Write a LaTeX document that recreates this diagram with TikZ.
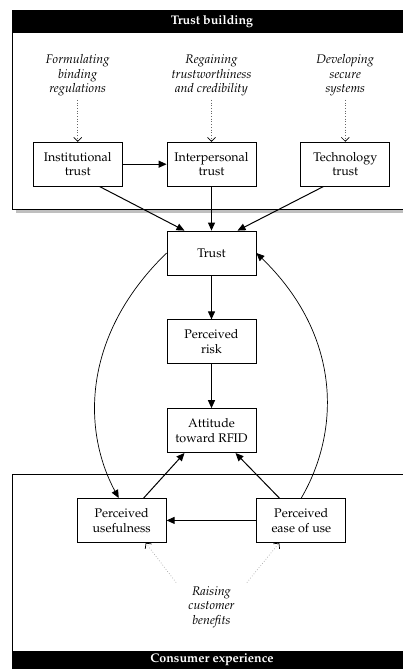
\documentclass[tikz,border=0pt]{standalone}
\usepackage[T1]{fontenc}
\usepackage{mathpazo}
\usetikzlibrary{arrows.meta, positioning}

\begin{document}
\begin{tikzpicture}[x=1pt, y=-1pt, node distance=44pt, line width=0.8pt,
    font=\fontsize{12.5}{14.5}\selectfont,
    box/.style={draw, fill=white, minimum width=89pt, minimum height=44pt, align=center, inner sep=2pt},
    idea/.style={align=center, font=\fontsize{12.5}{14.5}\selectfont\itshape},
    title/.style={text=white, font=\fontsize{12.5}{14.5}\selectfont\bfseries},
    dotarrow/.style={dotted, line width=0.7pt, -{Straight Barb[length=4pt, width=8pt, line width=0.7pt, color=black]}},
    >={Triangle[length=8pt, width=7pt]}]
    \useasboundingbox (0,0) rectangle (402,669);

    % Trust building panel
    \fill[gray!50] (16,14) rectangle (410,213);
    \draw[fill=white] (12,10) rectangle (410,209);
    \fill (12,10) rectangle (410,33);
    \node[title] (toptitle) at (212,21.5) {Trust building};

    % Consumer experience panel
    \draw (12,474) rectangle (410,680);
    \fill (12,651) rectangle (410,680);
    \node[title] (bottitle) at (212,660) {Consumer experience};

    % Constructs
    \node[box] (trust) at (211.5,253) {Trust};
    \node[box, above=of trust] (interpersonal) {Interpersonal\\trust};
    \node[box, left=of interpersonal] (institutional) {Institutional\\trust};
    \node[box, right=of interpersonal] (technology) {Technology\\trust};
    \node[box, below=of trust] (risk) {Perceived\\risk};
    \node[box, below=of risk] (attitude) {Attitude\\toward RFID};
    \node[box, below left=45pt and 0pt of attitude] (usefulness) {Perceived\\usefulness};
    \node[box, below right=45pt and 0pt of attitude] (ease) {Perceived\\ease of use};

    % Measures
    \node[idea, above=42pt of institutional] (regulations) {Formulating\\binding\\regulations};
    \node[idea, above=42pt of interpersonal] (credibility) {Regaining\\trustworthiness\\and credibility};
    \node[idea, above=42pt of technology] (secure) {Developing\\secure\\systems};
    \node[idea, minimum width=70pt] (benefits) at (211.5,607) {Raising\\customer\\benefits};

    \draw[dotarrow, gray!80!black] (regulations) -- (institutional);
    \draw[dotarrow, gray!80!black] (credibility) -- (interpersonal);
    \draw[dotarrow, gray!80!black] (secure) -- (technology);
    \draw[dotarrow, gray!70] (benefits.north west) -- ([xshift=24pt]usefulness.south);
    \draw[dotarrow, gray!70] (benefits.north east) -- ([xshift=-22pt]ease.south);

    % Relations
    \draw[->, line width=1pt] (institutional) -- (interpersonal);
    \draw[->, line width=1pt] ([xshift=22pt]institutional.south) -- ([xshift=-27pt]trust.north);
    \draw[->, line width=1pt] (interpersonal) -- (trust);
    \draw[->, line width=1pt] ([xshift=-22pt]technology.south) -- ([xshift=26pt]trust.north);
    \draw[->, line width=1pt] (trust) -- (risk);
    \draw[->, line width=1pt] (risk) -- (attitude);
    \draw[->, line width=1pt] ([xshift=22pt]usefulness.north) -- ([xshift=-27pt]attitude.south);
    \draw[->, line width=1pt] ([xshift=-22pt]ease.north) -- ([xshift=24pt]attitude.south);
    \draw[->, line width=1pt] (ease) -- (usefulness);
    \draw[->, line width=0.7pt] (trust.west) .. controls (82,335) and (82,430) .. ([xshift=-3pt]usefulness.north);
    \draw[->, line width=0.7pt] (ease.north) .. controls (341,430) and (341,335) .. (trust.east);
\end{tikzpicture}
\end{document}
